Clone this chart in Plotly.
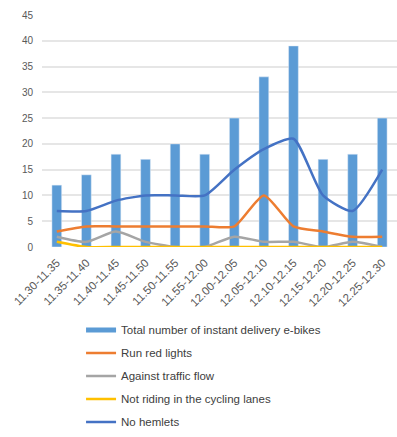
import plotly.graph_objects as go

categories = ["11.30-11.35", "11.35-11.40", "11.40-11.45", "11.45-11.50", "11.50-11.55",
              "11.55-12.00", "12.00-12.05", "12.05-12.10", "12.10-12.15", "12.15-12.20",
              "12.20-12.25", "12.25-12.30"]
total_ebikes = [12, 14, 18, 17, 20, 18, 25, 33, 39, 17, 18, 25]
run_red_lights = [3, 4, 4, 4, 4, 4, 4, 10, 4, 3, 2, 2]
against_flow = [2, 1, 3, 1, 0, 0, 2, 1, 1, 0, 1, 0]
not_cycling_lanes = [1, 0, 0, 0, 0, 0, 0, 0, 0, 0, 0, 0]
no_helmets = [7, 7, 9, 10, 10, 10, 15, 19, 21, 10, 7, 15]
y_ticks = [0, 5, 10, 15, 20, 25, 30, 35, 40, 45]

BAR = "#5B9BD5"
ORANGE = "#ED7D31"
GRAY = "#A5A5A5"
YELLOW = "#FFC000"
BLUE = "#4472C4"

fig = go.Figure()
fig.add_trace(go.Bar(x=categories, y=total_ebikes, marker_color=BAR, width=0.33,
                     showlegend=False, legendgroup="a"))
fig.add_trace(go.Scatter(x=[None], y=[None], mode="lines", line=dict(color=BAR, width=5),
                         name="Total number of instant delivery e-bikes", legendgroup="a"))
for name, vals, col, g in [("Run red lights", run_red_lights, ORANGE, "b"),
                           ("Against traffic flow", against_flow, GRAY, "c"),
                           ("Not riding in the cycling lanes", not_cycling_lanes, YELLOW, "d"),
                           ("No hemlets", no_helmets, BLUE, "e")]:
    fig.add_trace(go.Scatter(x=categories, y=vals, mode="lines", name=name, legendgroup=g,
                             line=dict(color=col, width=2.5, shape="spline", smoothing=0.6)))

fig.update_layout(
    width=397, height=437,
    margin=dict(l=42, r=0, t=15, b=190),
    plot_bgcolor="white", paper_bgcolor="white",
    font=dict(family="Liberation Sans, Arial", color="#595959", size=10),
    legend=dict(x=0.11, y=-0.295, xanchor="left", yanchor="top",
                traceorder="grouped", tracegroupgap=4, itemwidth=30,
                font=dict(size=11.5, color="#404040")),
    xaxis=dict(tickangle=-45, tickfont=dict(size=11.5), showgrid=False, showline=False,
               ticks="", ticklabelstandoff=6),
    yaxis=dict(range=[0, 45], tickvals=y_ticks, gridcolor="#E6E6E6", gridwidth=1.5,
               zeroline=False, tickfont=dict(size=10), ticks="", ticklabelstandoff=8),
)
fig.write_html("out.html")
